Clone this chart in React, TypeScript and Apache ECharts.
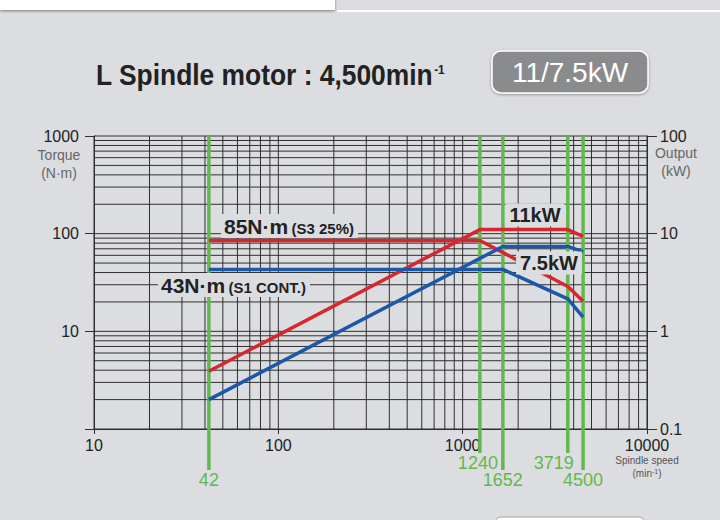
import React, { useEffect, useRef } from 'react';
import * as echarts from 'echarts';

// ---- data ----
const speedRed = [42, 1240, 3719, 4500];
const torqueRed = [85, 85, 28.8, 20.3];
const outputRed = [0.39, 11, 11, 9.4];
const speedBlue = [42, 1652, 3719, 4500];
const torqueBlue = [43, 43, 21.5, 14];
const outputBlue = [0.2, 7.4, 7.4, 6.5];
const markerSpeeds = [42, 1240, 1652, 3719, 4500];
const xDecades = [10, 100, 1000];
const yDecades = [1, 10, 100];
const mantissas = [1, 2, 3, 4, 5, 6, 7, 8, 9];

const BG = '#dcdde0';
const GRID = '#2f2f2f';
const RED = '#d8262e';
const BLUE = '#1b58a8';
const GREEN = '#62b84e';
const FONT = 'Liberation Sans, Arial, sans-serif';

const xGrid = [...xDecades.flatMap((d) => mantissas.map((m) => d * m)), 10000];
const yGrid = [...yDecades.flatMap((d) => mantissas.map((m) => d * m)), 1000];

const fmt = (v: number) => String(+v.toPrecision(3));

export default function App() {
  const ref = useRef<HTMLDivElement>(null);
  useEffect(() => {
    if (!ref.current) return;
    const chart = echarts.init(ref.current, undefined, { renderer: 'svg' });
    const option: any = {
      animation: false,
      backgroundColor: BG,
      grid: { left: 94, right: 73, top: 136, bottom: 91, containLabel: false },
      xAxis: {
        type: 'log',
        logBase: 10,
        min: 10,
        max: 10000,
        axisLine: { show: true, lineStyle: { color: GRID, width: 1 } },
        axisTick: { show: true, length: 5, lineStyle: { color: GRID } },
        axisLabel: { fontSize: 16, color: '#222', margin: 8, fontFamily: FONT, formatter: fmt },
        splitLine: { show: false },
      },
      yAxis: [
        {
          type: 'log',
          logBase: 10,
          min: 1,
          max: 1000,
          position: 'left',
          axisLine: { show: true, lineStyle: { color: GRID } },
          axisTick: { show: true, length: 9, lineStyle: { color: GRID } },
          axisLabel: {
            fontSize: 16,
            color: '#222',
            margin: 15,
            fontFamily: FONT,
            formatter: (v: number) => (v < 2 ? '' : fmt(v)),
          },
          splitLine: { show: false },
        },
        {
          type: 'log',
          logBase: 10,
          min: 0.1,
          max: 100,
          position: 'right',
          axisLine: { show: true, lineStyle: { color: GRID } },
          axisTick: { show: true, length: 10, lineStyle: { color: GRID } },
          axisLabel: { fontSize: 16, color: '#222', margin: 13, fontFamily: FONT, formatter: fmt },
          splitLine: { show: false },
        },
      ],
      series: [
        {
          type: 'custom',
          name: 'vgrid',
          silent: true,
          z: 1,
          data: xGrid.map((v) => [v, 1]),
          renderItem: (params: any, api: any) => {
            const x = api.value(0);
            const a = api.coord([x, 1000]);
            const b = api.coord([x, 1]);
            return {
              type: 'line',
              shape: { x1: a[0], y1: a[1], x2: b[0], y2: b[1] },
              style: { stroke: GRID, lineWidth: 1 },
            };
          },
        },
        {
          type: 'custom',
          name: 'hgrid',
          silent: true,
          z: 1,
          data: yGrid.map((v) => [10, v]),
          renderItem: (params: any, api: any) => {
            const y = api.value(1);
            const a = api.coord([10, y]);
            const b = api.coord([10000, y]);
            return {
              type: 'line',
              shape: { x1: a[0], y1: a[1], x2: b[0], y2: b[1] },
              style: { stroke: GRID, lineWidth: 1 },
            };
          },
        },
        {
          type: 'custom',
          name: 'markers',
          silent: true,
          clip: false,
          z: 2,
          data: markerSpeeds.map((v) => [v, 1]),
          renderItem: (params: any, api: any) => {
            const x = api.value(0);
            const i = params.dataIndex;
            const a = api.coord([x, 1000]);
            const b = api.coord([x, 1]);
            const long = i % 2 === 0;
            const endY = b[1] + (long ? 41 : 24);
            const dx = x === 3719 ? -14 : x === 1240 ? -2 : 0;
            return {
              type: 'group',
              children: [
                {
                  type: 'line',
                  shape: { x1: a[0], y1: a[1], x2: a[0], y2: endY },
                  style: { stroke: GREEN, lineWidth: 3.5 },
                },
                {
                  type: 'text',
                  x: a[0] + dx,
                  y: endY + 10,
                  style: {
                    text: String(x),
                    fill: GREEN,
                    font: `18px ${FONT}`,
                    textAlign: 'center',
                    textVerticalAlign: 'middle',
                  },
                },
              ],
            };
          },
        },
        {
          type: 'line',
          name: 'Torque S3',
          yAxisIndex: 0,
          z: 4,
          showSymbol: false,
          data: speedRed.map((s, i) => [s, torqueRed[i]]),
          lineStyle: { color: RED, width: 3.5 },
        },
        {
          type: 'line',
          name: 'Output S3',
          yAxisIndex: 1,
          z: 4,
          showSymbol: false,
          data: speedRed.map((s, i) => [s, outputRed[i]]),
          lineStyle: { color: RED, width: 3.5 },
        },
        {
          type: 'line',
          name: 'Torque S1',
          yAxisIndex: 0,
          z: 4,
          showSymbol: false,
          data: speedBlue.map((s, i) => [s, torqueBlue[i]]),
          lineStyle: { color: BLUE, width: 3.5 },
        },
        {
          type: 'line',
          name: 'Output S1',
          yAxisIndex: 1,
          z: 4,
          showSymbol: false,
          data: speedBlue.map((s, i) => [s, outputBlue[i]]),
          lineStyle: { color: BLUE, width: 3.5 },
        },
      ],
      graphic: [
        // top strip
        {
          type: 'rect',
          shape: { x: 0, y: -10, width: 335, height: 20 },
          style: { fill: '#ffffff', shadowBlur: 3, shadowColor: 'rgba(0,0,0,0.45)', shadowOffsetY: 1 },
          z: 10,
        },
        {
          type: 'line',
          shape: { x1: 337, y1: 11, x2: 720, y2: 11 },
          style: { stroke: '#ffffff', lineWidth: 2 },
          z: 10,
        },
        // bottom box
        {
          type: 'rect',
          shape: { x: 495, y: 517, width: 150, height: 20, r: 6 },
          style: { fill: '#ffffff', stroke: '#a0a0a0', lineWidth: 1 },
          z: 10,
        },
        // title
        {
          type: 'text',
          x: 96,
          y: 75,
          scaleX: 0.91,
          z: 10,
          style: {
            text: '{t|L Spindle motor : 4,500min}{s|-1}',
            textVerticalAlign: 'middle',
            rich: {
              t: { font: `bold 29px ${FONT}`, fill: '#222', verticalAlign: 'bottom' },
              s: { font: `bold 13px ${FONT}`, fill: '#222', verticalAlign: 'top', padding: [3, 0, 0, 1] },
            },
          },
        },
        // power box
        {
          type: 'rect',
          shape: { x: 492, y: 51, width: 156, height: 42, r: 9 },
          style: {
            fill: '#8a8b8d',
            stroke: '#ffffff',
            lineWidth: 1.5,
            shadowBlur: 3,
            shadowColor: 'rgba(0,0,0,0.35)',
            shadowOffsetY: 1,
          },
          z: 10,
        },
        {
          type: 'text',
          x: 570,
          y: 72,
          z: 11,
          style: {
            text: '11/7.5kW',
            font: `28px ${FONT}`,
            fill: '#ffffff',
            textAlign: 'center',
            textVerticalAlign: 'middle',
          },
        },
        // axis names
        {
          type: 'text',
          x: 59,
          y: 164,
          z: 10,
          style: {
            text: 'Torque\n(N·m)',
            font: `14px ${FONT}`,
            lineHeight: 18,
            fill: '#666',
            textAlign: 'center',
            textVerticalAlign: 'middle',
          },
        },
        {
          type: 'text',
          x: 676,
          y: 162,
          z: 10,
          style: {
            text: 'Output\n(kW)',
            font: `14px ${FONT}`,
            lineHeight: 18,
            fill: '#666',
            textAlign: 'center',
            textVerticalAlign: 'middle',
          },
        },
        {
          type: 'text',
          x: 647,
          y: 460,
          z: 10,
          style: {
            text: 'Spindle speed',
            font: `10px ${FONT}`,
            fill: '#555',
            textAlign: 'center',
            textVerticalAlign: 'middle',
          },
        },
        {
          type: 'text',
          x: 647,
          y: 473,
          z: 10,
          style: {
            text: '(min{s|-1})',
            font: `10px ${FONT}`,
            fill: '#555',
            textAlign: 'center',
            textVerticalAlign: 'middle',
            rich: { s: { font: `7px ${FONT}`, fill: '#555', verticalAlign: 'top' } },
          },
        },
        // curve labels
        {
          type: 'text',
          x: 221,
          y: 226,
          z: 12,
          style: {
            text: '{b|85N·m} {s|(S3 25%)}',
            textVerticalAlign: 'middle',
            backgroundColor: BG,
            padding: [2, 4, 1, 3],
            rich: {
              b: { font: `bold 21px ${FONT}`, fill: '#222' },
              s: { font: `bold 15px ${FONT}`, fill: '#222', padding: [4, 0, 0, 0] },
            },
          },
        },
        {
          type: 'text',
          x: 158,
          y: 285,
          z: 12,
          style: {
            text: '{b|43N·m} {s|(S1 CONT.)}',
            textVerticalAlign: 'middle',
            backgroundColor: BG,
            padding: [2, 4, 1, 3],
            rich: {
              b: { font: `bold 21px ${FONT}`, fill: '#222' },
              s: { font: `bold 15px ${FONT}`, fill: '#222', padding: [4, 0, 0, 0] },
            },
          },
        },
        {
          type: 'text',
          x: 535,
          y: 215,
          z: 12,
          style: {
            text: '11kW',
            font: `bold 20px ${FONT}`,
            fill: '#222',
            textAlign: 'center',
            textVerticalAlign: 'middle',
            backgroundColor: BG,
            padding: [2, 4, 1, 4],
          },
        },
        {
          type: 'text',
          x: 549,
          y: 263,
          z: 12,
          style: {
            text: '7.5kW',
            font: `bold 20px ${FONT}`,
            fill: '#222',
            textAlign: 'center',
            textVerticalAlign: 'middle',
            backgroundColor: BG,
            padding: [2, 4, 1, 4],
          },
        },
      ],
    };
    chart.setOption(option);
    return () => chart.dispose();
  }, []);
  return (
    <div
      ref={ref}
      style={{ position: 'absolute', left: 0, top: 0, width: 720, height: 520 }}
    />
  );
}
